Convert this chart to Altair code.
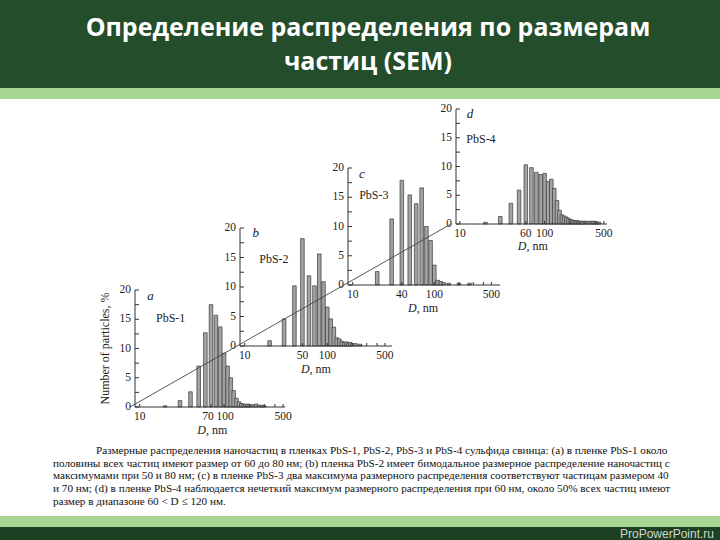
import altair as alt
import pandas as pd

# ---------------- data ----------------
title_lines = ["Определение распределения по размерам", "частиц (SEM)"]
panel_letters = ["a", "b", "c", "d"]
panel_names = ["PbS-1", "PbS-2", "PbS-3", "PbS-4"]
y_title = "Number of particles, %"
x_title_parts = ["D", ", nm"]

d_a = [20, 30, 40, 50, 60, 70, 80, 90, 100, 110, 120, 130, 140, 150, 160, 170, 180, 190, 200, 220, 240, 260, 280, 300]
v_a = [0.2, 1.1, 2.6, 7.0, 12.7, 17.5, 15.7, 13.7, 9.2, 7.0, 5.0, 2.8, 1.5, 0.9, 0.6, 0.5, 0.4, 0.5, 0.4, 0.4, 0.5, 0.3, 0.3, 0.2]

d_b = [20, 30, 40, 50, 60, 70, 80, 90, 100, 110, 120, 130, 140, 150, 160, 170, 180, 190, 200, 220, 250]
v_b = [0.9, 4.6, 10.2, 18.2, 11.9, 10.2, 15.6, 10.9, 6.6, 4.6, 3.2, 1.4, 1.2, 0.8, 0.6, 0.7, 0.5, 0.6, 0.4, 0.4, 0.3]

d_c = [20, 30, 40, 50, 60, 70, 80, 90, 100, 110, 120, 130, 150, 200, 270]
v_c = [2.3, 11.3, 17.9, 15.4, 13.9, 16.6, 10.0, 7.6, 3.4, 0.8, 0.6, 0.4, 0.3, 0.3, 0.3]

d_d = [20, 30, 40, 50, 60, 70, 80, 90, 100, 110, 120, 130, 140, 150, 160, 170, 180, 190, 200,
       210, 220, 230, 240, 250, 260, 270, 280, 300, 320, 340, 360, 380, 400, 420, 440]
v_d = [0.3, 1.3, 3.6, 5.9, 10.3, 9.8, 9.0, 8.6, 8.8, 7.4, 7.8, 6.2, 4.1, 2.4, 1.6, 1.4, 1.2, 1.0, 0.8,
       0.7, 0.6, 0.5, 0.6, 0.5, 0.4, 0.5, 0.4, 0.5, 0.4, 0.5, 0.4, 0.5, 0.4, 0.3, 0.3]

x_label_values = [[10, 70, 100, 500], [10, 50, 100, 500], [10, 40, 100, 500], [10, 60, 100, 500]]
x_minor_ticks = [200, 300, 400]
y_tick_values = [0, 2.5, 5, 7.5, 10, 12.5, 15, 17.5, 20]
y_label_values = [0, 5, 10, 15, 20]

caption_lines = [
    "Размерные распределения наночастиц в пленках PbS-1, PbS-2, PbS-3 и PbS-4 сульфида свинца: (a) в пленке PbS-1 около",
    "половины всех частиц имеют размер от 60 до 80 нм; (b)  пленка PbS-2 имеет бимодальное размерное распределение наночастиц с",
    "максимумами при 50 и 80 нм; (c) в пленке PbS-3 два максимума размерного распределения соответствуют частицам размером 40",
    "и 70 нм; (d) в пленке PbS-4 наблюдается нечеткий максимум размерного распределения при 60 нм, около 50% всех частиц имеют",
    "размер в диапазоне 60 < D ≤ 120 нм.",
]
footer_text = "ProPowerPoint.ru"

# ---------------- layout (pixels / scale setup) ----------------
W, H = 720, 540
geom = [
    dict(xr=[130, 290], xd=[8.8, 527], yr=[407, 290]),
    dict(xr=[235, 397], xd=[8.77, 608], yr=[346, 228]),
    dict(xr=[343, 505], xd=[8.76, 638], yr=[285, 168]),
    dict(xr=[451, 612], xd=[9.0, 545], yr=[224, 109]),
]
# label anchors in each panel's own data coordinates (D, %)
LETTER_POS = [(13.4, 18.9), (13.6, 19.2), (13.0, 19.0), (13.2, 19.2)]
NAME_POS = [(15.6, 15.2), (15.0, 14.8), (12.0, 15.4), (11.9, 14.8)]
XTITLE_POS = (61.0, -3.9)
YTITLE_POS = (3.9, 10.0)
# tick labels that sit a little off their tick (panel index, value) -> dx in px
LABEL_NUDGE = {(0, 70): -3, (0, 100): 1}

SERIF = "Liberation Serif"
INK = "#222222"
AXIS = "#333333"


def panel(i, D, V):
    g = geom[i]
    x0, x1 = g["xd"]
    xs = alt.Scale(type="log", domain=g["xd"], range=g["xr"], nice=False)
    ys = alt.Scale(domain=[0, 20], range=g["yr"], nice=False, zero=True)

    def X(f):
        return alt.X(f, scale=xs, axis=None)

    def Y(f):
        return alt.Y(f, scale=ys, axis=None)

    df = pd.DataFrame({"D": D, "pct": V})
    bars = alt.Chart(df).mark_bar(size=3.6, orient="vertical", fill="#a3a3a3",
                                  stroke="#3a3a3a", strokeWidth=0.7).encode(
        x=X("D:Q"), y=Y("pct:Q"))

    # axis lines
    frame = pd.DataFrame({"x": [x0, x0], "x2": [x1, x0], "y": [0, 0], "y2": [0, 20]})
    axis_lines = alt.Chart(frame).mark_rule(color=AXIS, strokeWidth=1).encode(
        x=X("x:Q"), x2="x2:Q", y=Y("y:Q"), y2="y2:Q")

    # inward ticks
    yt = pd.DataFrame({"v": y_tick_values, "x": [x0] * len(y_tick_values)})
    y_ticks = alt.Chart(yt).mark_rule(color=AXIS, strokeWidth=1, x2Offset=4).encode(
        x=X("x:Q"), x2="x:Q", y=Y("v:Q"))
    xtv = x_label_values[i] + x_minor_ticks
    xt = pd.DataFrame({"v": xtv, "y": [0] * len(xtv)})
    x_ticks = alt.Chart(xt).mark_rule(color=AXIS, strokeWidth=1, y2Offset=-3).encode(
        x=X("v:Q"), y=Y("y:Q"), y2="y:Q")

    # tick labels
    yl = pd.DataFrame({"v": y_label_values, "x": [x0] * len(y_label_values),
                       "t": [str(v) for v in y_label_values]})
    y_labels = alt.Chart(yl).mark_text(font=SERIF, fontSize=11.5, color=INK, align="right",
                                       baseline="middle", dx=-4).encode(
        x=X("x:Q"), y=Y("v:Q"), text="t:N")

    x_label_layers = []
    for v in x_label_values[i]:
        dxv = LABEL_NUDGE.get((i, v), 0)
        xl = pd.DataFrame({"v": [v], "y": [0], "t": [str(v)]})
        x_label_layers.append(
            alt.Chart(xl).mark_text(font=SERIF, fontSize=11.5, color=INK, align="center",
                                    baseline="top", dy=4, dx=dxv).encode(
                x=X("v:Q"), y=Y("y:Q"), text="t:N"))

    def txt(xv, yv, t, **kw):
        d = pd.DataFrame({"D": [xv], "y": [yv], "t": [t]})
        return alt.Chart(d).mark_text(font=SERIF, color=INK, baseline="middle", **kw).encode(
            x=X("D:Q"), y=Y("y:Q"), text="t:N")

    parts = [bars, axis_lines, y_ticks, x_ticks, y_labels, *x_label_layers,
             txt(LETTER_POS[i][0], LETTER_POS[i][1], panel_letters[i], fontSize=13, fontStyle="italic", align="center"),
             txt(NAME_POS[i][0], NAME_POS[i][1], panel_names[i], fontSize=12, align="left"),
             txt(XTITLE_POS[0], XTITLE_POS[1], x_title_parts[0], fontSize=12, fontStyle="italic", align="right"),
             txt(XTITLE_POS[0], XTITLE_POS[1], x_title_parts[1], fontSize=12, align="left")]
    if i == 0:
        parts.append(txt(YTITLE_POS[0], YTITLE_POS[1], y_title, fontSize=12, angle=270, align="center"))
    return alt.layer(*parts)


def rect(x0, x1, y0, y1, color):
    return alt.Chart(pd.DataFrame({"k": [0]})).mark_rect(color=color).encode(
        x=alt.value(x0), x2=alt.value(x1), y=alt.value(y0), y2=alt.value(y1))


def label(x, y, t, **kw):
    return alt.Chart(pd.DataFrame({"t": [t]})).mark_text(baseline="middle", **kw).encode(
        x=alt.value(x), y=alt.value(y), text="t:N")


header = rect(0, W, 0, 88, "#234d2b")
band_top = rect(0, W, 88, 99, "#a7d690")
band_bot = rect(0, W, 516, 527, "#a7d690")
footer = rect(0, W, 527, H, "#1d3f22")

title1 = label(368, 28, title_lines[0], font="Open Sans", fontWeight="bold", fontSize=25, color="white", align="center")
title2 = label(368, 62, title_lines[1], font="Open Sans", fontWeight="bold", fontSize=25, color="white", align="center")
foot = label(714, 534, footer_text, font="Liberation Sans", fontSize=12, color="#cfd6cf", align="right")

# line joining the panel origins
diag = alt.Chart(pd.DataFrame({"k": [0]})).mark_rule(color="#444", strokeWidth=0.9).encode(
    x=alt.value(geom[0]["xr"][0]), y=alt.value(geom[0]["yr"][0]),
    x2=alt.value(geom[3]["xr"][0]), y2=alt.value(geom[3]["yr"][0]))

cap_y = [450.7, 463.5, 476.3, 489.1, 502.0]
cap_x = [96, 53, 53, 53, 53]
caps = [label(cap_x[k], cap_y[k], caption_lines[k], font=SERIF, fontSize=11.2, color="#111", align="left")
        for k in range(len(caption_lines))]

panels = [panel(0, d_a, v_a), panel(1, d_b, v_b), panel(2, d_c, v_c), panel(3, d_d, v_d)]

chart = alt.layer(
    header, band_top, band_bot, footer, title1, title2, foot,
    *panels, diag, *caps,
).resolve_scale(x="independent", y="independent").properties(
    width=W, height=H, padding=0, autosize="none", background="white"
).configure_view(strokeWidth=0)

chart.save("out.html", embed_options={"renderer": "svg", "actions": False})
